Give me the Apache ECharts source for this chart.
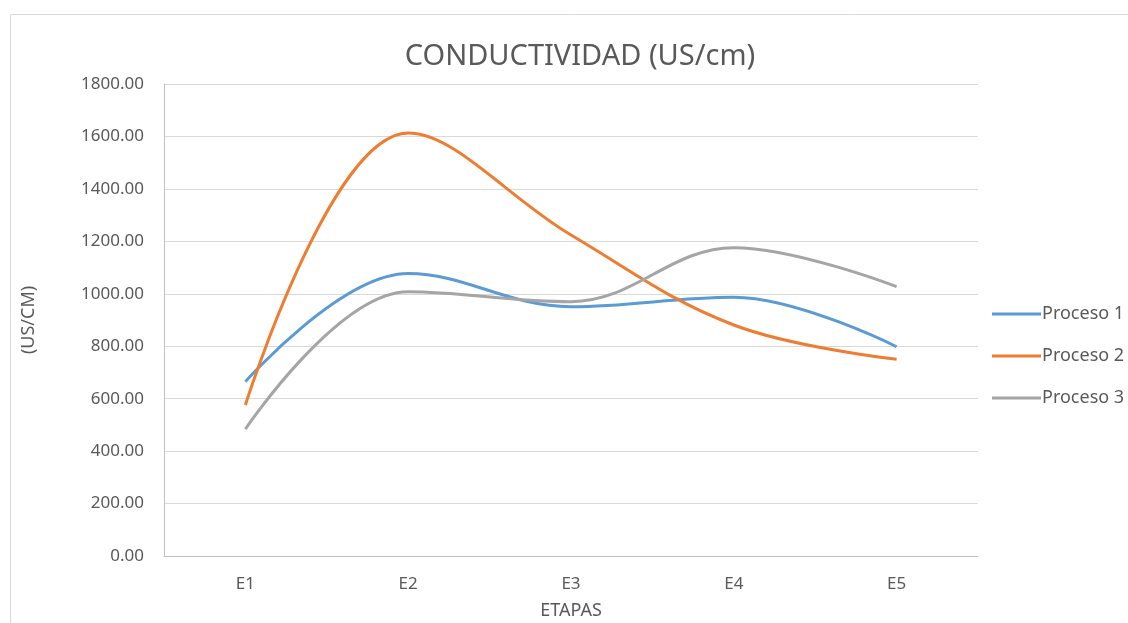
<!DOCTYPE html>
<html>
<head>
<meta charset="utf-8">
<script src="https://cdn.jsdelivr.net/npm/echarts@6/dist/echarts.min.js"></script>
<style>
  html, body { margin: 0; padding: 0; background: #fff; }
  #main { width: 1128px; height: 623px; }
</style>
</head>
<body>
<div id="main"></div>
<script>
// datos
var etapas = ['E1', 'E2', 'E3', 'E4', 'E5'];
var proceso1 = [665, 1077, 951, 987, 798];
var proceso2 = [576, 1613, 1224, 881, 750];
var proceso3 = [484, 1008, 970, 1176, 1027];

var font = 'Noto Sans';
var txt = '#595959';

var chart = echarts.init(document.getElementById('main'));

function serie(name, data, color) {
  return {
    name: name,
    type: 'line',
    data: data,
    smooth: 0.38,
    symbol: 'none',
    lineStyle: { width: 3, color: color },
    itemStyle: { color: color }
  };
}

chart.setOption({
  animation: false,
  textStyle: { fontFamily: font },
  title: {
    text: 'CONDUCTIVIDAD (US/cm)',
    left: 575, top: 37, textAlign: 'center',
    textStyle: { fontFamily: font, fontSize: 29, fontWeight: 'normal', color: txt }
  },
  graphic: [{
    type: 'rect',
    shape: { x: 10.5, y: 14.5, width: 1200, height: 700 },
    style: { fill: 'none', stroke: '#d9d9d9', lineWidth: 1 },
    silent: true
  }],
  legend: {
    orient: 'vertical',
    left: 987, top: 300,
    itemWidth: 49, itemHeight: 3, itemGap: 24,
    icon: 'rect',
    textStyle: { fontFamily: font, fontSize: 18, lineHeight: 18, color: txt, padding: [0, 0, 0, -4] },
    data: ['Proceso 1', 'Proceso 2', 'Proceso 3']
  },
  grid: { left: 164, right: 150, top: 84, bottom: 67, outerBoundsMode: 'none' },
  xAxis: {
    type: 'category',
    data: etapas,
    boundaryGap: true,
    name: 'ETAPAS',
    nameLocation: 'middle',
    nameGap: 46,
    nameTextStyle: { fontFamily: font, fontSize: 18, color: txt },
    axisLine: { lineStyle: { color: '#bfbfbf', width: 1 } },
    axisTick: { show: false },
    axisLabel: { fontFamily: font, fontSize: 17, color: txt, margin: 20 }
  },
  yAxis: {
    type: 'value',
    min: 0, max: 1800, interval: 200,
    name: '(US/CM)',
    nameLocation: 'middle',
    nameGap: 126,
    nameRotate: 90,
    nameTextStyle: { fontFamily: font, fontSize: 18, color: txt },
    axisLine: { show: true, lineStyle: { color: '#bfbfbf', width: 1 } },
    axisTick: { show: false },
    splitLine: { lineStyle: { color: '#d9d9d9', width: 1 } },
    axisLabel: {
      fontFamily: font, fontSize: 17, color: txt, margin: 20,
      formatter: function (v) { return v.toFixed(2); }
    }
  },
  series: [
    serie('Proceso 1', proceso1, '#5b9bd5'),
    serie('Proceso 2', proceso2, '#ed7d31'),
    serie('Proceso 3', proceso3, '#a5a5a5')
  ]
});
</script>
</body>
</html>
